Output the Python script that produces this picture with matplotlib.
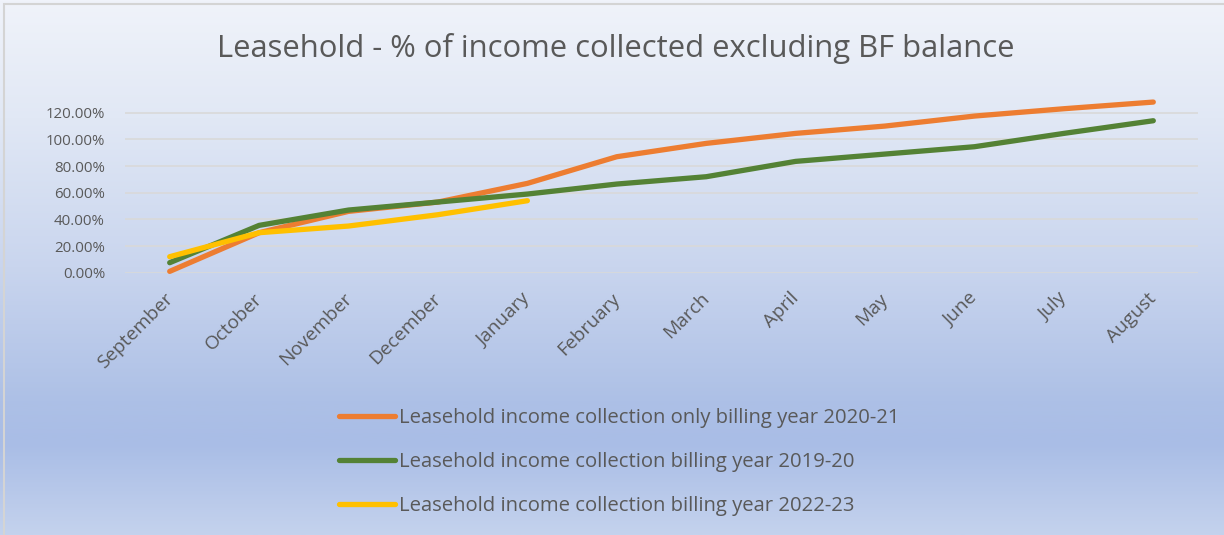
import matplotlib
matplotlib.use("Agg")
import matplotlib.pyplot as plt
import matplotlib.transforms as mtransforms
import numpy as np
from matplotlib.colors import LinearSegmentedColormap
from matplotlib.ticker import PercentFormatter
from matplotlib.patches import Rectangle

months = ["September", "October", "November", "December", "January", "February",
          "March", "April", "May", "June", "July", "August"]
orange_2020_21 = [0.01, 0.30, 0.46, 0.53, 0.67, 0.87, 0.97, 1.045, 1.10, 1.175, 1.23, 1.28]
green_2019_20 = [0.075, 0.355, 0.47, 0.53, 0.59, 0.665, 0.72, 0.835, 0.89, 0.945, 1.045, 1.14]
yellow_2022_23 = [0.12, 0.30, 0.35, 0.435, 0.54]
labels = ["Leasehold income collection only billing year 2020-21",
          "Leasehold income collection billing year 2019-20",
          "Leasehold income collection billing year 2022-23"]
title = "Leasehold - % of income collected excluding BF balance"

plt.rcParams['font.family'] = ['Open Sans', 'DejaVu Sans']
W, H = 1224, 535
fig = plt.figure(figsize=(W / 100, H / 100), dpi=100)

# gradient background
bg = fig.add_axes([0, 0, 1, 1], zorder=-10)
stops = [(0.0, "#f0f3fa"), (0.22, "#e1e8f5"), (0.5, "#c9d5ee"), (0.75, "#adc0e6"),
         (0.83, "#a9bde6"), (1.0, "#c4d2ed")]
cmap = LinearSegmentedColormap.from_list("bg", stops)
grad = np.linspace(0, 1, 256).reshape(-1, 1)
bg.imshow(grad, cmap=cmap, aspect="auto", extent=[0, 1, 0, 1], origin="upper")
bg.set_xlim(0, 1)
bg.set_ylim(0, 1)
bg.axis("off")
bg.add_patch(Rectangle((4 / W, -0.01), 1.1, 1 - 4 / H + 0.01, fill=False,
                       edgecolor="#d4d4d4", linewidth=1.5, transform=bg.transAxes))

left = 125 / W
right = 1198 / W
bottom = 1 - 272.7 / H
top = 1 - 99.4 / H
ax = fig.add_axes([left, bottom, right - left, top - bottom])
ax.patch.set_alpha(0)

x = np.arange(len(months))
ax.plot(x, orange_2020_21, color="#ED7D31", lw=3.8, solid_capstyle="round",
        label=labels[0], clip_on=False, zorder=3)
ax.plot(x, green_2019_20, color="#548235", lw=3.8, solid_capstyle="round",
        label=labels[1], clip_on=False, zorder=4)
ax.plot(x[:len(yellow_2022_23)], yellow_2022_23, color="#FFC000", lw=3.8,
        solid_capstyle="round", label=labels[2], clip_on=False, zorder=5)

ax.set_xlim(-0.5, 11.5)
ax.set_ylim(0, 1.3)
ax.set_yticks(np.arange(0, 1.21, 0.2))
ax.yaxis.set_major_formatter(PercentFormatter(1.0, decimals=2))
ax.grid(axis="y", color="#d9d9d9", lw=1.2)
ax.set_axisbelow(True)
for s in ax.spines.values():
    s.set_visible(False)
ax.tick_params(axis="both", length=0, colors="#595959")
ax.tick_params(axis="y", labelsize=10.8, pad=14.4)
ax.set_xticks(x)
ax.set_xticklabels(months, rotation=45, ha="right", va="top",
                   rotation_mode="anchor", fontsize=13.8, color="#595959")
ax.tick_params(axis="x", pad=12)
offset = mtransforms.ScaledTranslation(-6 / 100, 0, fig.dpi_scale_trans)
for lbl in ax.get_xticklabels():
    lbl.set_transform(lbl.get_transform() + offset)

fig.text(615.5 / W, 1 - 48 / H, title, ha="center", va="center", fontsize=22.3, color="#595959")

leg = fig.legend(loc="center", bbox_to_anchor=(619.5 / W, 1 - 462 / H), frameon=False,
                 fontsize=14.55, labelcolor="#595959", handlelength=2.75,
                 handletextpad=0.2, labelspacing=1.17)

fig.savefig("out.png", dpi=100)
